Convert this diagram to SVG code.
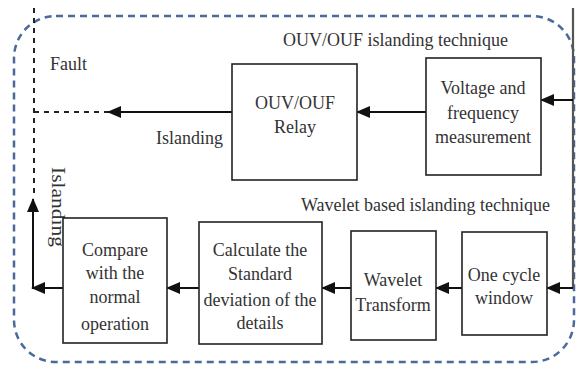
<svg xmlns="http://www.w3.org/2000/svg" width="579" height="367" viewBox="0 0 579 367">
<defs>
<marker id="ah" markerWidth="14" markerHeight="12" refX="13" refY="6" orient="auto" markerUnits="userSpaceOnUse">
<path d="M0,0 L14,6 L0,12 Z" fill="#111"/>
</marker>
</defs>
<style>
.box{fill:#fff;stroke:#222;stroke-width:1.6}
.t{font-family:"Liberation Serif","Times New Roman",serif;font-size:18px;fill:#333;text-anchor:middle}
.lbl{font-family:"Liberation Serif","Times New Roman",serif;font-size:18px;fill:#333}
.ln{stroke:#111;stroke-width:2;fill:none}
.dash{stroke:#222;stroke-width:2;fill:none;stroke-dasharray:5,5}
</style>
<rect width="579" height="367" fill="#fff"/>
<rect x="14" y="16" width="560" height="346" rx="42" ry="42" fill="none" stroke="#4a6a9a" stroke-width="2.5" stroke-dasharray="7,5"/>
<g id="connectors">
<line class="dash" x1="34" y1="8" x2="34" y2="198"/>
<line class="dash" x1="34" y1="112" x2="108" y2="112"/>
<line class="ln" x1="235" y1="112" x2="108" y2="112" marker-end="url(#ah)"/>
<line x1="573" y1="8" x2="573" y2="288" stroke="#555" stroke-width="2.2"/>
<line class="ln" x1="573" y1="100" x2="541" y2="100" marker-end="url(#ah)"/>
<line class="ln" x1="426" y1="112" x2="357" y2="112" marker-end="url(#ah)"/>
<line class="ln" x1="573" y1="288" x2="547" y2="288" marker-end="url(#ah)"/>
<line class="ln" x1="462" y1="288" x2="436" y2="288" marker-end="url(#ah)"/>
<line class="ln" x1="351" y1="288" x2="322" y2="288" marker-end="url(#ah)"/>
<line class="ln" x1="199" y1="288" x2="167" y2="288" marker-end="url(#ah)"/>
<line class="ln" x1="63" y1="288" x2="32" y2="288" marker-end="url(#ah)"/>
<line class="ln" x1="33" y1="288" x2="33" y2="199" marker-end="url(#ah)"/>
</g>
<text class="lbl" x="283" y="46">OUV/OUF islanding technique</text>
<text class="lbl" x="50" y="70">Fault</text>
<text class="lbl" x="156" y="144">Islanding</text>
<text class="lbl" x="301" y="211">Wavelet based islanding technique</text>
<text class="lbl" transform="translate(52,167) rotate(90)" textLength="80" lengthAdjust="spacingAndGlyphs">Islanding</text>
<g id="relay">
<rect class="box" x="232" y="64" width="125" height="116"/>
<text class="t" x="295" y="109">OUV/OUF</text>
<text class="t" x="295" y="133">Relay</text>
</g>
<g id="voltage">
<rect class="box" x="426" y="58" width="115" height="117"/>
<text class="t" x="483" y="94">Voltage and</text>
<text class="t" x="483" y="119">frequency</text>
<text class="t" x="483" y="143">measurement</text>
</g>
<g id="compare">
<rect class="box" x="63" y="218" width="104" height="125"/>
<text class="t" x="115" y="256">Compare</text>
<text class="t" x="115" y="279">with the</text>
<text class="t" x="115" y="303">normal</text>
<text class="t" x="115" y="330">operation</text>
</g>
<g id="calculate">
<rect class="box" x="199" y="222" width="123" height="122"/>
<text class="t" x="260" y="256">Calculate the</text>
<text class="t" x="260" y="280">Standard</text>
<text class="t" x="260" y="306">deviation of the</text>
<text class="t" x="260" y="329">details</text>
</g>
<g id="wavelet">
<rect class="box" x="351" y="231" width="85" height="109"/>
<text class="t" x="393" y="286">Wavelet</text>
<text class="t" x="393" y="311">Transform</text>
</g>
<g id="onecycle">
<rect class="box" x="462" y="232" width="85" height="103"/>
<text class="t" x="504" y="281">One cycle</text>
<text class="t" x="504" y="304">window</text>
</g>
</svg>
